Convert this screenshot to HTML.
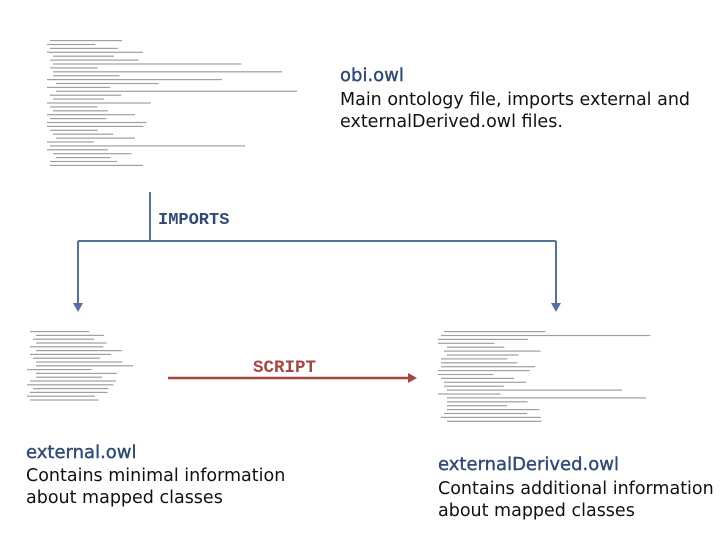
<!DOCTYPE html>
<html><head><meta charset="utf-8"><style>
body{margin:0;width:720px;height:540px;background:#fff;position:relative;overflow:hidden;font-family:"DejaVu Sans","Liberation Sans",sans-serif}
.t{position:absolute;white-space:nowrap}
.h{color:#2e4a7c;font-size:18px;line-height:22px;-webkit-text-stroke:0.4px #2e4a7c}
.d{color:#111;font-size:17.5px;line-height:22px}
</style></head><body>
<svg width="720" height="540" style="position:absolute;left:0;top:0">
<g id="c1" fill="#a0a0a0"></g>
<path d="M150 192V241M78 241H556M78 241V308M556 241V308" stroke="#4f73a8" stroke-width="2" fill="none"/>
<path d="M73 303L78 312L83 303Z M551 303L556 312L561 303Z" fill="#4f73a8"/>
<path d="M168 378H411" stroke="#a8463e" stroke-width="2.5"/>
<path d="M408 373L417 378L408 383Z" fill="#a8463e"/>
<text x="158" y="224" font-family="Liberation Mono,monospace" font-weight="bold" font-size="17" fill="#2e4a7c">IMPORTS</text>
<text x="253" y="372" font-family="Liberation Mono,monospace" font-weight="bold" font-size="17.5" fill="#a8463e">SCRIPT</text>
</svg>
<div class="t h" style="left:340px;top:65px">obi.owl</div>
<div class="t d" style="left:340px;top:89px">Main ontology file, imports external and<br>externalDerived.owl files.</div>
<div class="t h" style="left:26px;top:442px">external.owl</div>
<div class="t d" style="left:26px;top:465px">Contains minimal information<br>about mapped classes</div>
<div class="t h" style="left:438px;top:454px">externalDerived.owl</div>
<div class="t d" style="left:438px;top:478px">Contains additional information<br>about mapped classes</div>
<script>
function block(x,y,n,maxw,step,seed,lo,hi){var s=seed,g=document.getElementById('c1'),out='';
for(var i=0;i<n;i++){s=(s*9301+49297)%233280;var r=s/233280;var ind=[0,3,6,9][Math.floor(r*4)];
s=(s*9301+49297)%233280;var r2=s/233280;var w=r2<0.2?maxw*(0.6+r2*2):maxw*(lo+r2*hi);if(w>maxw-ind)w=maxw-ind;
out+='<rect x="'+(x+ind)+'" y="'+(y+i*step).toFixed(1)+'" width="'+w.toFixed(1)+'" height="1.2"/>';}
g.innerHTML+=out;}
block(47,40,33,250,3.9,7,0.12,0.3);
block(27,331,19,106,3.8,3,0.45,0.5);
block(438,331,24,259,3.9,11,0.12,0.3);
</script>
</body></html>
